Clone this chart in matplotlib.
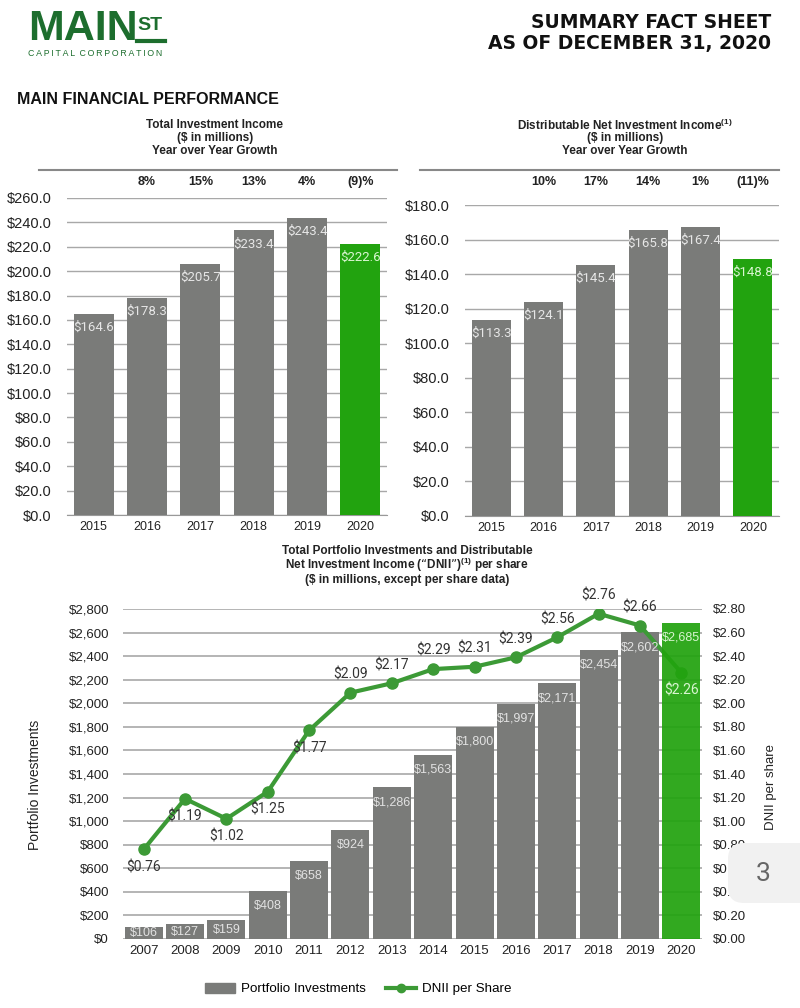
import numpy as np
import matplotlib
matplotlib.use('Agg')
import matplotlib.pyplot as plt
import matplotlib.transforms as mtransforms
from matplotlib.patches import FancyBboxPatch, Rectangle
from matplotlib.lines import Line2D

# ---------------- data ----------------
years_top = ['2015', '2016', '2017', '2018', '2019', '2020']
total_investment_income = [164.6, 178.3, 205.7, 233.4, 243.4, 222.6]
tii_growth = ['8%', '15%', '13%', '4%', '(9)%']
dnii_income = [113.3, 124.1, 145.4, 165.8, 167.4, 148.8]
dnii_growth = ['10%', '17%', '14%', '1%', '(11)%']

years_bottom = ['2007', '2008', '2009', '2010', '2011', '2012', '2013',
                '2014', '2015', '2016', '2017', '2018', '2019', '2020']
portfolio_investments = [106, 127, 159, 408, 658, 924, 1286, 1563, 1800,
                         1997, 2171, 2454, 2602, 2685]
dnii_per_share = [0.76, 1.19, 1.02, 1.25, 1.77, 2.09, 2.17, 2.29, 2.31,
                  2.39, 2.56, 2.76, 2.66, 2.26]
dnii_label_below = [True, True, True, True, True, False, False, False, False,
                    False, False, False, False, True]

# ---------------- styles ----------------
GRAY = '#7a7b79'
GREEN = '#22a30f'
LINE_GREEN = '#3c9a36'
GRID = '#a8a8a8'
TXT = '#222222'
LOGO = '#1d6e2e'
NARROW = ['Liberation Sans Narrow', 'Liberation Sans']
W, H = 800, 1008

plt.rcParams['font.family'] = ['Liberation Sans', 'DejaVu Sans']
fig = plt.figure(figsize=(W / 100, H / 100), dpi=100)
fig.patch.set_facecolor('white')


def fx(x):
    return x / W


def fy(y):
    return 1 - y / H


def add_ax(l, t, r, b):
    return fig.add_axes([l / W, 1 - b / H, (r - l) / W, (b - t) / H])


# ---------------- header ----------------
fig.text(fx(28), fy(29), 'MAIN', fontsize=31, fontweight='bold', color=LOGO,
         ha='left', va='center')
fig.text(fx(137), fy(25), 'ST', fontsize=14, fontweight='bold', color=LOGO,
         ha='left', va='center')
fig.add_artist(Line2D([fx(137), fx(165)], [fy(41), fy(41)], color=LOGO, lw=3,
                      transform=fig.transFigure))
fig.text(fx(28), fy(53), '\u2009'.join('CAPITAL') + '\u2002' + '\u2009'.join('CORPORATION'),
         fontsize=6.3, color=LOGO, ha='left', va='center')
fig.text(fx(771), fy(22), 'SUMMARY FACT SHEET', fontsize=13.5, fontweight='bold',
         family='DejaVu Sans', ha='right', va='center', color='#111')
fig.text(fx(771), fy(43), 'AS OF DECEMBER 31, 2020', fontsize=13.5, fontweight='bold',
         family='DejaVu Sans', ha='right', va='center', color='#111')
fig.text(fx(17), fy(100), 'MAIN FINANCIAL PERFORMANCE', fontsize=11.5,
         fontweight='bold', ha='left', va='center', color='#111')


# ---------------- top charts ----------------
def top_chart(box, values, growth, ymax, step, titles, title_cx, sep):
    l, t, r, b = box
    ax = add_ax(l, t, r, b)
    n = len(values)
    x = np.arange(n)
    colors = [GRAY] * (n - 1) + [GREEN]
    ax.bar(x, values, width=0.75, color=colors, zorder=3)
    ax.set_xlim(-0.5, n - 0.5)
    ax.set_ylim(0, ymax)
    ax.set_yticks(np.arange(0, ymax + 0.1, step))
    ax.yaxis.set_major_formatter(lambda v, p: f'${v:.1f}')
    ax.set_xticks(x)
    ax.set_xticklabels(years_top)
    ax.grid(axis='y', color=GRID, lw=1, zorder=0)
    for s in ['top', 'right', 'left']:
        ax.spines[s].set_visible(False)
    ax.spines['bottom'].set_color('#999999')
    ax.tick_params(axis='y', length=0, labelsize=10.5, colors=TXT, pad=11)
    ax.tick_params(axis='x', length=0, labelsize=9, colors=TXT, pad=4)
    for i, v in enumerate(values):
        c = '#d8f5d0' if i == n - 1 else '#e6e6e6'
        ax.annotate(f'${v:.1f}', (i, v), xytext=(0, -5), textcoords='offset points',
                    ha='center', va='top', fontsize=9.5, color=c,
                    family='Roboto', zorder=5)
    tr = mtransforms.blended_transform_factory(ax.transData, fig.transFigure)
    for i, g in enumerate(growth):
        ax.text(i + 1, fy(182), g, transform=tr, ha='center', va='center',
                fontsize=9, fontweight='bold', color=TXT)
    for line, yy in zip(titles, [125, 138, 151]):
        fig.text(fx(title_cx), fy(yy), line, ha='center', va='center',
                 fontsize=8.5, fontweight='bold', color=TXT)
    fig.add_artist(Line2D([fx(sep[0]), fx(sep[1])], [fy(170), fy(170)],
                          color='#888888', lw=1.5, transform=fig.transFigure))
    return ax


top_chart((67, 198, 387, 515), total_investment_income, tii_growth, 260, 20,
          ['Total Investment Income', '($ in millions)', 'Year over Year Growth'],
          215, (39, 397))
top_chart((465, 205, 779, 516), dnii_income, dnii_growth, 180, 20,
          [r'Distributable Net Investment Income$^{\mathregular{(1)}}$',
           '($ in millions)', 'Year over Year Growth'],
          625, (420, 779))

# ---------------- bottom chart ----------------
for line, yy in zip(['Total Portfolio Investments and Distributable',
                     r'Net Investment Income (“DNII”)$^{\mathregular{(1)}}$ per share',
                     '($ in millions, except per share data)'], [551, 565, 580]):
    fig.text(fx(407), fy(yy), line, ha='center', va='center', fontsize=8.5,
             fontweight='bold', family=NARROW, color=TXT)

ax = add_ax(123, 609, 702, 939)
n = len(portfolio_investments)
xb = np.arange(n)
ax.bar(xb[:-1], portfolio_investments[:-1], width=0.92, color=GRAY, zorder=2)
ax.set_xlim(-0.5, n - 0.5)
ax.set_ylim(0, 2800)
ax.set_yticks(np.arange(0, 2801, 200))
ax.yaxis.set_major_formatter(lambda v, p: f'${int(v):,}')
ax.set_xticks(xb)
ax.set_xticklabels(years_bottom, family=NARROW)
ax.grid(axis='y', color=GRID, lw=1.2, zorder=0)
for s in ['top', 'right', 'left', 'bottom']:
    ax.spines[s].set_visible(False)
ax.tick_params(axis='y', length=0, labelsize=9.5, colors=TXT, pad=10)
ax.tick_params(axis='x', length=0, labelsize=9.5, colors=TXT, pad=4)

ax2 = ax.twinx()
ax2.plot(xb, dnii_per_share, color=LINE_GREEN, lw=3, marker='o', ms=8, zorder=3)
ax2.bar(xb[-1], portfolio_investments[-1], width=0.92, color=GREEN, alpha=0.93,
        transform=ax.transData, zorder=4)
ax2.set_ylim(0, 2.8)
ax2.set_yticks(np.arange(0, 2.81, 0.2))
ax2.yaxis.set_major_formatter(lambda v, p: f'${v:.2f}')
for s in ['top', 'right', 'left', 'bottom']:
    ax2.spines[s].set_visible(False)
ax2.tick_params(axis='y', length=0, labelsize=9.5, colors=TXT, pad=8)

for i, v in enumerate(portfolio_investments):
    ylab = max(v - 127, v / 2)
    c = '#d8f5d0' if i == n - 1 else '#e2e2e2'
    ax2.text(i, ylab, f'${v:,}', transform=ax.transData, ha='center', va='center',
             fontsize=9, color=c, family=NARROW, zorder=6)

for i, (v, below) in enumerate(zip(dnii_per_share, dnii_label_below)):
    c = '#d8f5d0' if i == n - 1 else '#333333'
    ax2.annotate(f'${v:.2f}', (i, v), xytext=(0, -8 if below else 8),
                 textcoords='offset points', ha='center',
                 va='top' if below else 'bottom', fontsize=10, color=c,
                 family='Roboto', zorder=6)

fig.text(fx(35), fy(785), 'Portfolio Investments', rotation=90, ha='center',
         va='center', fontsize=10, color=TXT)
fig.text(fx(771), fy(787), 'DNII per share', rotation=90, ha='center',
         va='center', fontsize=9.5, color=TXT)

handles = [Rectangle((0, 0), 1, 1, color=GRAY),
           Line2D([], [], color=LINE_GREEN, lw=3, marker='o', ms=6)]
fig.legend(handles, ['Portfolio Investments', 'DNII per Share'], loc='center',
           bbox_to_anchor=(fx(358), fy(989)), ncol=2, frameon=False,
           prop={'family': NARROW, 'size': 9.6}, handlelength=2.3,
           handleheight=0.8, columnspacing=1.5, handletextpad=0.4)

# page badge
badge = FancyBboxPatch((728, H - 903), 110, 60,
                       boxstyle='round,pad=0,rounding_size=16',
                       facecolor='#f1f1f1', edgecolor='none',
                       transform=mtransforms.IdentityTransform(), zorder=20)
fig.add_artist(badge)
fig.text(fx(763), fy(874), '3', fontsize=19, color='#666666', ha='center',
         va='center', family='Roboto', zorder=21)

fig.savefig('out.png', dpi=100, facecolor='white')
